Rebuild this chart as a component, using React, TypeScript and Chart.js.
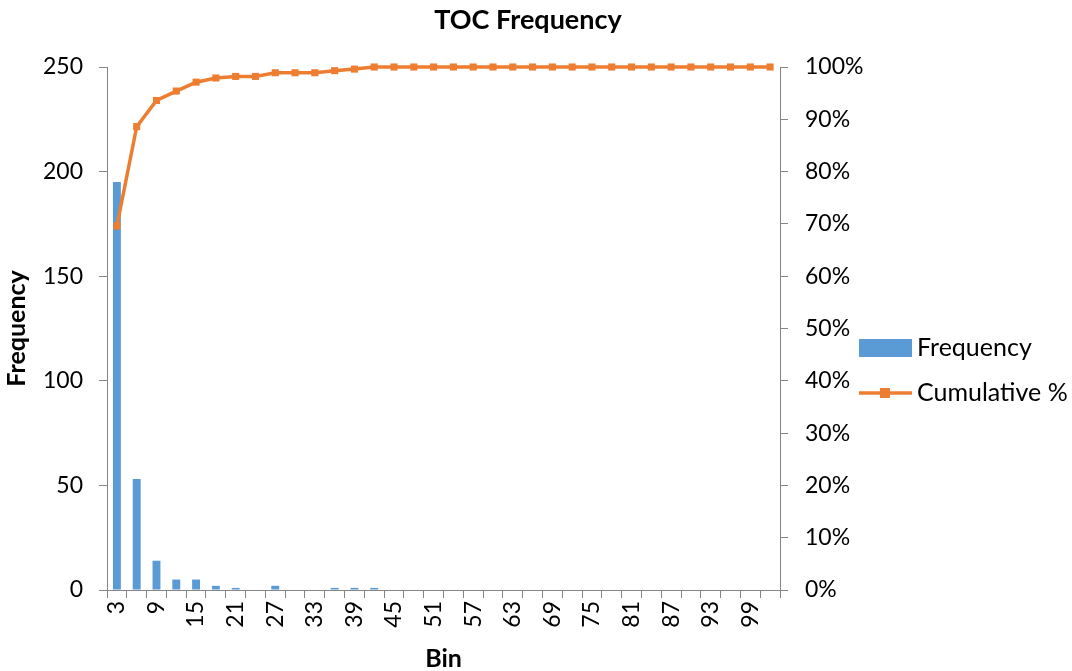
import React, { useEffect, useRef } from "react";
import { Chart, registerables } from "chart.js";

Chart.register(...registerables);

const bins = [3, 6, 9, 12, 15, 18, 21, 24, 27, 30, 33, 36, 39, 42, 45, 48, 51, 54, 57, 60, 63, 66, 69, 72, 75, 78, 81, 84, 87, 90, 93, 96, 99, 102];
const frequency = [195, 53, 14, 5, 5, 2, 1, 0, 2, 0, 0, 1, 1, 1, 0, 0, 0, 0, 0, 0, 0, 0, 0, 0, 0, 0, 0, 0, 0, 0, 0, 0, 0, 0];
const cumulative = [69.6, 88.6, 93.6, 95.4, 97.1, 97.9, 98.2, 98.2, 98.9, 98.9, 98.9, 99.3, 99.6, 100, 100, 100, 100, 100, 100, 100, 100, 100, 100, 100, 100, 100, 100, 100, 100, 100, 100, 100, 100, 100];

const BLUE = "#5B9BD5";
const ORANGE = "#ED7D31";
const AXIS = "#868686";
const FONT = "Lato, 'Open Sans', sans-serif";

const overlay = {
  id: "overlay",
  afterDraw(chart: any) {
    const ctx = chart.ctx;
    ctx.save();
    ctx.fillStyle = "#000";
    ctx.font = `bold 27px ${FONT}`;
    ctx.textAlign = "center";
    ctx.textBaseline = "middle";
    ctx.fillText("TOC Frequency", 528, 20);
    // legend
    ctx.fillStyle = BLUE;
    ctx.fillRect(859, 339, 53, 18);
    ctx.strokeStyle = ORANGE;
    ctx.lineWidth = 3.5;
    ctx.beginPath();
    ctx.moveTo(859, 393);
    ctx.lineTo(912, 393);
    ctx.stroke();
    ctx.fillStyle = ORANGE;
    ctx.fillRect(880, 388, 10, 10);
    ctx.fillStyle = "#000";
    ctx.font = `25px ${FONT}`;
    ctx.textAlign = "left";
    ctx.fillText("Frequency", 917, 348);
    ctx.fillText("Cumulative %", 917, 393);
    ctx.restore();
  },
};

export default function App() {
  const ref = useRef<HTMLCanvasElement>(null);
  useEffect(() => {
    document.body.style.margin = "0";
    const chart = new Chart(ref.current!, {
      type: "bar",
      data: {
        labels: bins.map(String),
        datasets: [
          {
            type: "line",
            label: "Cumulative %",
            data: cumulative,
            yAxisID: "y1",
            borderColor: ORANGE,
            backgroundColor: ORANGE,
            borderWidth: 3.5,
            pointStyle: "rect",
            pointRadius: 5,
            pointBackgroundColor: ORANGE,
            pointBorderWidth: 0,
            tension: 0,
            clip: false,
            order: 0,
          } as any,
          {
            type: "bar",
            label: "Frequency",
            data: frequency,
            yAxisID: "y",
            backgroundColor: BLUE,
            barPercentage: 0.4,
            categoryPercentage: 1,
            order: 1,
          },
        ],
      },
      options: {
        animation: false,
        responsive: false,
        layout: { padding: { top: 67, left: 0, right: 192, bottom: 0 } },
        plugins: { legend: { display: false }, title: { display: false }, tooltip: { enabled: false } },
        scales: {
          x: {
            offset: true,
            grid: { offset: true, drawOnChartArea: false, tickLength: 8, color: AXIS },
            border: { color: AXIS },
            ticks: {
              autoSkip: false,
              minRotation: 90,
              maxRotation: 90,
              padding: 3,
              color: "#000",
              font: { family: FONT, size: 23 },
              callback: (_v: any, i: number) => (i % 2 === 0 ? bins[i] : ""),
            },
            title: { display: true, text: "Bin", color: "#000", font: { family: FONT, size: 25, weight: "bold", lineHeight: 1 }, padding: { top: 0, bottom: 0 } },
            afterFit: (s: any) => { s.height = 81; },
          },
          y: {
            position: "left",
            min: 0,
            max: 250,
            ticks: { stepSize: 50, padding: 16, color: "#000", font: { family: FONT, size: 23 } },
            grid: { drawOnChartArea: false, tickLength: 8, color: AXIS },
            border: { color: AXIS },
            title: { display: true, text: "Frequency", color: "#000", font: { family: FONT, size: 25, weight: "bold", lineHeight: 1 }, padding: { top: 4, bottom: 0 } },
            afterFit: (s: any) => { s.width = 107; },
          },
          y1: {
            position: "right",
            min: 0,
            max: 100,
            ticks: { stepSize: 10, padding: 17, color: "#000", font: { family: FONT, size: 23 }, callback: (v: any) => v + "%" },
            grid: { drawOnChartArea: false, tickLength: 8, color: AXIS },
            border: { color: AXIS },
            afterFit: (s: any) => { s.width = 100; },
          },
        },
      },
      plugins: [overlay],
    });
    return () => chart.destroy();
  }, []);
  return (
    <div style={{ position: "absolute", left: 0, top: 0, width: 1072, height: 671 }}>
      <canvas ref={ref} width={1072} height={671} style={{ width: 1072, height: 671 }} />
    </div>
  );
}
